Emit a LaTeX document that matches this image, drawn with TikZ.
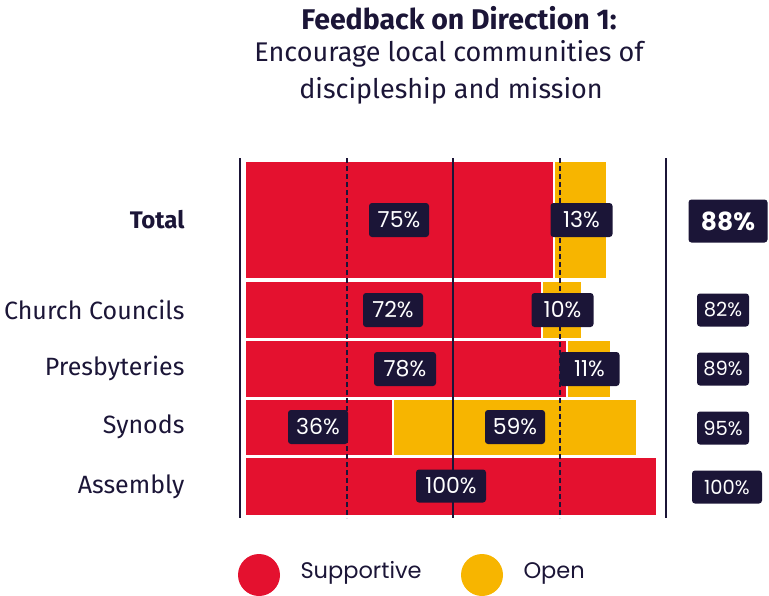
\documentclass[tikz,border=0pt]{standalone}
\usepackage{fontspec}
\setmainfont{Fira Sans}
\newfontfamily\labfont{Poppins}
\definecolor{cred}{HTML}{E4112F}
\definecolor{cyel}{HTML}{F7B500}
\definecolor{cnavy}{HTML}{1B1537}
\begin{document}
\begin{tikzpicture}[x=1pt,y=-1pt,
  redbar/.style={fill=cred,draw=white,line width=1.5pt},
  yelbar/.style={fill=cyel,draw=white,line width=1.5pt},
  axisline/.style={draw=cnavy,line width=1.8pt},
  gridline/.style={draw=cnavy,line width=1.6pt,dash pattern=on 5pt off 3pt},
  pct/.style={fill=cnavy,text=white,rounded corners=3pt,inner sep=0pt,minimum width=60pt,minimum height=34pt,font=\labfont\fontsize{22}{24}\selectfont},
  tot/.style={fill=cnavy,text=white,rounded corners=3pt,inner sep=0pt,minimum width=52pt,minimum height=33pt,font=\labfont\fontsize{19.5}{22}\selectfont},
  rowlab/.style={anchor=east,text=cnavy,font=\fontsize{25}{28}\selectfont},
  legtxt/.style={anchor=west,text=cnavy,font=\labfont\fontsize{22.5}{25}\selectfont}]
\useasboundingbox (0,0) rectangle (769,595);
% title
\node[text=cnavy,font=\bfseries\fontsize{28.5}{30}\selectfont] (t1) at (459,18) {Feedback on Direction 1:};
\node[text=cnavy,font=\fontsize{27}{30}\selectfont] (t2) at (449,54) {Encourage local communities of};
\node[text=cnavy,font=\fontsize{27}{30}\selectfont] (t3) at (451,91) {discipleship and mission};
% bars
\draw[redbar] (245,161) rectangle (554,279);
\draw[yelbar] (554,161) rectangle (607,279);
\draw[redbar] (245,281) rectangle (542,339);
\draw[yelbar] (542,281) rectangle (582,339);
\draw[redbar] (245,340) rectangle (567,398);
\draw[yelbar] (567,340) rectangle (611,398);
\draw[redbar] (245,399) rectangle (393,456);
\draw[yelbar] (393,399) rectangle (637,456);
\draw[redbar] (245,457) rectangle (657,516);
% axes
\coordinate (a0t) at (240,158); \coordinate (a0b) at (240,518);
\coordinate (a1t) at (347,158); \coordinate (a1b) at (347,518);
\coordinate (a2t) at (453,158); \coordinate (a2b) at (453,518);
\coordinate (a3t) at (560,158); \coordinate (a3b) at (560,518);
\coordinate (a4t) at (666,158); \coordinate (a4b) at (666,518);
\draw[axisline] (a0t) -- (a0b);
\draw[gridline] (a1t) -- (a1b);
\draw[axisline] (a2t) -- (a2b);
\draw[gridline] (a3t) -- (a3b);
\draw[axisline] (a4t) -- (a4b);
% row labels
\node[rowlab,font=\bfseries\fontsize{24}{28}\selectfont] (rTotal) at (188,220) {Total};
\node[rowlab] (rChurch) at (188,310) {Church Councils};
\node[rowlab] (rPres) at (188,368) {Presbyteries};
\node[rowlab] (rSyn) at (188,427) {Synods};
\node[rowlab] (rAss) at (188,487) {Assembly};
% bar labels
\node[pct] (p1) at (399,220) {75\%};
\node[pct,minimum width=62pt] (p2) at (581.5,220) {13\%};
\node[pct] (p3) at (393,310) {72\%};
\node[pct,minimum width=62pt] (p4) at (562.5,310) {10\%};
\node[pct,minimum width=62pt] (p5) at (405,369) {78\%};
\node[pct] (p6) at (589.5,369) {11\%};
\node[pct] (p7) at (318,427) {36\%};
\node[pct] (p8) at (515,427) {59\%};
\node[pct,minimum width=70pt,minimum height=33pt] (p9) at (451,486) {100\%};
% totals
\node[tot,minimum width=79pt,minimum height=43pt,font=\labfont\bfseries\fontsize{25}{28}\selectfont] (s1) at (728,221) {88\%};
\node[tot] (s2) at (723,310) {82\%};
\node[tot] (s3) at (723,369) {89\%};
\node[tot] (s4) at (723,428) {95\%};
\node[tot,minimum width=70pt] (s5) at (727,487) {100\%};
% legend
\node[circle,fill=cred,minimum size=42pt,inner sep=0pt] (lr) at (259,575) {};
\node[legtxt] (lrt) at (297,573) {Supportive};
\node[circle,fill=cyel,minimum size=42pt,inner sep=0pt] (ly) at (482,575) {};
\node[legtxt] (lyt) at (520,573) {Open};
\end{tikzpicture}
\end{document}
